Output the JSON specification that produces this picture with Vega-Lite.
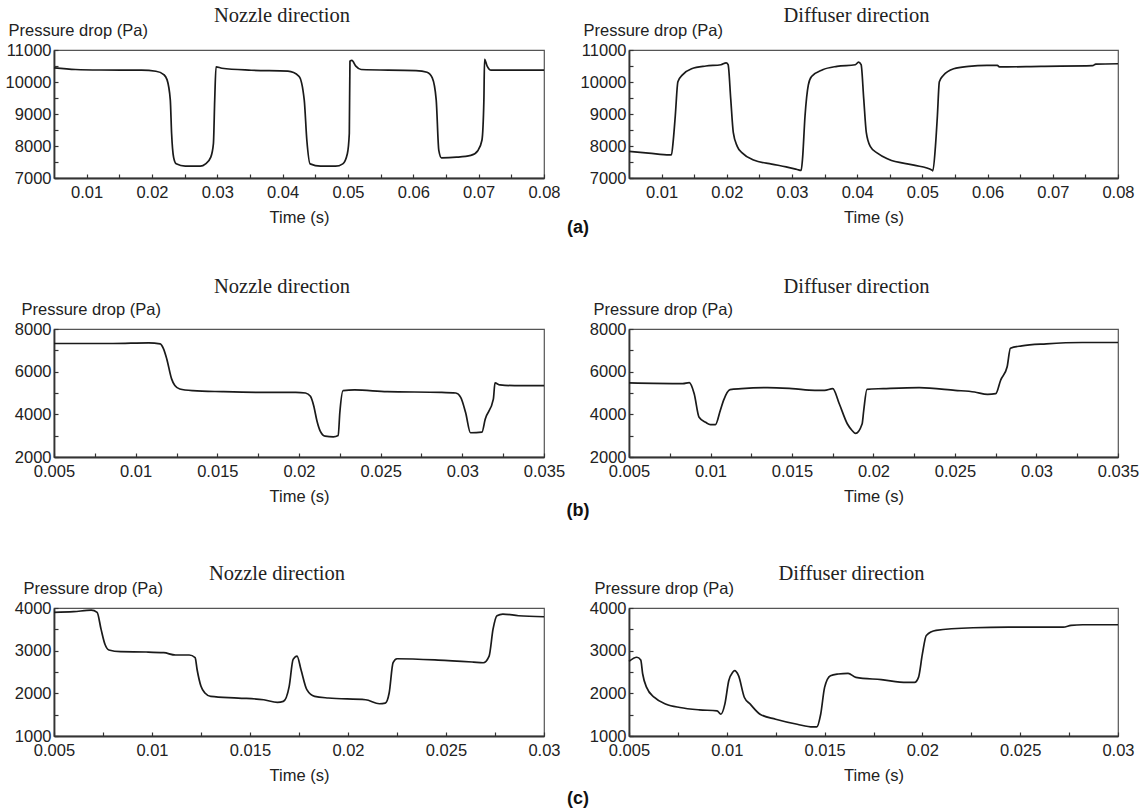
{
"$schema": "https://vega.github.io/schema/vega-lite/v6.json",
"background": "white",
"padding": {"left": 4, "top": 4, "right": 5, "bottom": 5},
"datasets": {
"a_noz": [
{"t":0.005,"p":10440},{"t":0.0083,"p":10390},{"t":0.012,"p":10375},{"t":0.0184,"p":10370},{"t":0.0206,"p":10337},{"t":0.0218,"p":10232},{"t":0.0223,"p":10074},{"t":0.0228,"p":9442},{"t":0.023,"p":8390},{"t":0.0233,"p":7653},{"t":0.0237,"p":7442},{"t":0.0251,"p":7368},{"t":0.0274,"p":7368},{"t":0.0282,"p":7442},{"t":0.029,"p":7653},{"t":0.0294,"p":8074},{"t":0.0296,"p":9442},{"t":0.0298,"p":10474},{"t":0.0307,"p":10430},{"t":0.0352,"p":10368},{"t":0.0408,"p":10337},{"t":0.0425,"p":10179},{"t":0.0433,"p":9442},{"t":0.0437,"p":8179},{"t":0.0442,"p":7442},{"t":0.0458,"p":7368},{"t":0.0481,"p":7368},{"t":0.0492,"p":7442},{"t":0.0499,"p":7758},{"t":0.0502,"p":8390},{"t":0.0503,"p":10653},{"t":0.0506,"p":10674},{"t":0.0512,"p":10495},{"t":0.052,"p":10390},{"t":0.0604,"p":10358},{"t":0.0621,"p":10305},{"t":0.0629,"p":10126},{"t":0.0635,"p":9442},{"t":0.0639,"p":7863},{"t":0.0643,"p":7632},{"t":0.0666,"p":7650},{"t":0.0688,"p":7705},{"t":0.0699,"p":7863},{"t":0.0705,"p":8179},{"t":0.0708,"p":9442},{"t":0.0709,"p":10705},{"t":0.0713,"p":10495},{"t":0.0719,"p":10368},{"t":0.08,"p":10368}
],
"a_dif": [
{"t":0.005,"p":7830},{"t":0.008,"p":7780},{"t":0.0112,"p":7720},{"t":0.0115,"p":7720},{"t":0.0118,"p":8200},{"t":0.0121,"p":8946},{"t":0.0125,"p":10010},{"t":0.0132,"p":10223},{"t":0.0146,"p":10415},{"t":0.0168,"p":10500},{"t":0.0191,"p":10540},{"t":0.0199,"p":10600},{"t":0.0202,"p":10540},{"t":0.0206,"p":9479},{"t":0.021,"p":8415},{"t":0.0216,"p":7989},{"t":0.0224,"p":7776},{"t":0.0241,"p":7563},{"t":0.0269,"p":7436},{"t":0.0291,"p":7350},{"t":0.0308,"p":7265},{"t":0.0314,"p":7235},{"t":0.0316,"p":7563},{"t":0.032,"p":8946},{"t":0.0325,"p":9904},{"t":0.033,"p":10170},{"t":0.0347,"p":10383},{"t":0.0369,"p":10490},{"t":0.0397,"p":10540},{"t":0.0402,"p":10620},{"t":0.0406,"p":10540},{"t":0.041,"p":9479},{"t":0.0414,"p":8415},{"t":0.042,"p":7989},{"t":0.0431,"p":7776},{"t":0.0448,"p":7585},{"t":0.0487,"p":7404},{"t":0.0515,"p":7244},{"t":0.0516,"p":7222},{"t":0.052,"p":7989},{"t":0.0523,"p":8946},{"t":0.0526,"p":10010},{"t":0.0532,"p":10202},{"t":0.0548,"p":10415},{"t":0.0571,"p":10490},{"t":0.0599,"p":10520},{"t":0.0615,"p":10520},{"t":0.0618,"p":10470},{"t":0.0682,"p":10490},{"t":0.0761,"p":10510},{"t":0.0766,"p":10560},{"t":0.08,"p":10570}
],
"b_noz": [
{"t":0.005,"p":7320},{"t":0.0086,"p":7320},{"t":0.0108,"p":7350},{"t":0.0115,"p":7305},{"t":0.0117,"p":7084},{"t":0.0119,"p":6610},{"t":0.0122,"p":5663},{"t":0.0124,"p":5347},{"t":0.0127,"p":5189},{"t":0.0135,"p":5110},{"t":0.0153,"p":5063},{"t":0.0175,"p":5032},{"t":0.0198,"p":5032},{"t":0.0204,"p":5000},{"t":0.0207,"p":4842},{"t":0.0209,"p":4400},{"t":0.0211,"p":3689},{"t":0.0213,"p":3216},{"t":0.0216,"p":2979},{"t":0.0221,"p":2947},{"t":0.0224,"p":3010},{"t":0.0225,"p":4084},{"t":0.0227,"p":5110},{"t":0.0234,"p":5142},{"t":0.0254,"p":5063},{"t":0.0287,"p":5032},{"t":0.0296,"p":5000},{"t":0.0299,"p":4795},{"t":0.0302,"p":4084},{"t":0.0305,"p":3137},{"t":0.0312,"p":3168},{"t":0.0314,"p":3768},{"t":0.0319,"p":4716},{"t":0.032,"p":5474},{"t":0.0323,"p":5379},{"t":0.0332,"p":5347},{"t":0.035,"p":5347}
],
"b_dif": [
{"t":0.005,"p":5474},{"t":0.0083,"p":5442},{"t":0.0087,"p":5490},{"t":0.009,"p":4968},{"t":0.0093,"p":3863},{"t":0.0097,"p":3626},{"t":0.01,"p":3516},{"t":0.0103,"p":3516},{"t":0.0106,"p":4179},{"t":0.0108,"p":4653},{"t":0.0112,"p":5158},{"t":0.0119,"p":5205},{"t":0.0135,"p":5253},{"t":0.015,"p":5205},{"t":0.0164,"p":5126},{"t":0.017,"p":5126},{"t":0.0175,"p":5205},{"t":0.0179,"p":4495},{"t":0.0184,"p":3547},{"t":0.0187,"p":3232},{"t":0.0189,"p":3105},{"t":0.0193,"p":3547},{"t":0.0194,"p":4179},{"t":0.0196,"p":5174},{"t":0.0206,"p":5205},{"t":0.0228,"p":5253},{"t":0.025,"p":5126},{"t":0.0262,"p":5047},{"t":0.027,"p":4937},{"t":0.0275,"p":4968},{"t":0.0278,"p":5600},{"t":0.0282,"p":6232},{"t":0.0284,"p":7100},{"t":0.0291,"p":7210},{"t":0.0306,"p":7305},{"t":0.0328,"p":7368},{"t":0.035,"p":7368}
],
"c_noz": [
{"t":0.005,"p":3898},{"t":0.006,"p":3913},{"t":0.0069,"p":3950},{"t":0.0072,"p":3898},{"t":0.0074,"p":3504},{"t":0.0076,"p":3150},{"t":0.0078,"p":3016},{"t":0.0084,"p":2976},{"t":0.0097,"p":2969},{"t":0.0106,"p":2953},{"t":0.0112,"p":2898},{"t":0.0119,"p":2898},{"t":0.0122,"p":2835},{"t":0.0123,"p":2559},{"t":0.0125,"p":2165},{"t":0.0127,"p":2008},{"t":0.013,"p":1929},{"t":0.0144,"p":1890},{"t":0.0157,"p":1850},{"t":0.0164,"p":1787},{"t":0.0167,"p":1811},{"t":0.017,"p":2165},{"t":0.0172,"p":2795},{"t":0.0174,"p":2874},{"t":0.0176,"p":2559},{"t":0.0179,"p":2087},{"t":0.0183,"p":1929},{"t":0.019,"p":1890},{"t":0.0209,"p":1850},{"t":0.0216,"p":1756},{"t":0.0219,"p":1772},{"t":0.0221,"p":2008},{"t":0.0223,"p":2717},{"t":0.0225,"p":2811},{"t":0.0246,"p":2780},{"t":0.0264,"p":2732},{"t":0.0269,"p":2717},{"t":0.0272,"p":2874},{"t":0.0274,"p":3504},{"t":0.0276,"p":3819},{"t":0.0279,"p":3858},{"t":0.0287,"p":3819},{"t":0.03,"p":3795}
],
"c_dif": [
{"t":0.005,"p":2750},{"t":0.0054,"p":2846},{"t":0.0056,"p":2780},{"t":0.0057,"p":2453},{"t":0.0059,"p":2139},{"t":0.0063,"p":1903},{"t":0.0069,"p":1746},{"t":0.0076,"p":1668},{"t":0.0086,"p":1613},{"t":0.0095,"p":1589},{"t":0.0097,"p":1510},{"t":0.0099,"p":1746},{"t":0.0101,"p":2296},{"t":0.0103,"p":2492},{"t":0.0104,"p":2532},{"t":0.0106,"p":2414},{"t":0.0109,"p":1903},{"t":0.0112,"p":1746},{"t":0.0117,"p":1510},{"t":0.0125,"p":1393},{"t":0.0136,"p":1275},{"t":0.0144,"p":1212},{"t":0.0146,"p":1212},{"t":0.0148,"p":1510},{"t":0.015,"p":2139},{"t":0.0153,"p":2414},{"t":0.0157,"p":2453},{"t":0.0162,"p":2469},{"t":0.0166,"p":2375},{"t":0.0179,"p":2320},{"t":0.0192,"p":2257},{"t":0.0196,"p":2257},{"t":0.0198,"p":2375},{"t":0.02,"p":2924},{"t":0.0202,"p":3356},{"t":0.0207,"p":3474},{"t":0.0226,"p":3537},{"t":0.0244,"p":3552},{"t":0.0272,"p":3552},{"t":0.0276,"p":3592},{"t":0.0282,"p":3607},{"t":0.03,"p":3607}
]
},
"spacing": 279,
"bounds": "flush",
"vconcat": [
{
"spacing": 85, "bounds": "flush",
"title": {"text": "(a)", "orient": "bottom", "anchor": "middle", "frame": "group", "dx": 524, "offset": -8, "font": "Liberation Sans", "fontSize": 18, "fontWeight": "bold", "color": "#111"},
"hconcat": [
{"width": 490, "height": 128, "title": {"text": "Nozzle direction"}, "data": {"name": "a_noz"},
 "mark": {"type": "line", "color": "#1a1a1a", "strokeWidth": 1.7, "interpolate": "monotone"},
 "encoding": {
  "x": {"field": "t", "type": "quantitative", "scale": {"domain": [0.005, 0.08], "nice": false, "zero": false},
        "axis": {"title": "Time (s)", "values": [0.01,0.015,0.02,0.025,0.03,0.035,0.04,0.045,0.05,0.055,0.06,0.065,0.07,0.075,0.08], "labelExpr": "abs(datum.value*100 - round(datum.value*100)) < 0.001 ? format(datum.value, '~g') : ''"}},
  "y": {"field": "p", "type": "quantitative", "scale": {"domain": [7000, 11000], "nice": false, "zero": false},
        "axis": {"title": "Pressure drop (Pa)", "titleX": -46, "values": [7000,7500,8000,8500,9000,9500,10000,10500,11000], "labelExpr": "datum.value % 1000 == 0 ? format(datum.value, 'd') : ''"}}
 }},
{"width": 489, "height": 128, "title": {"text": "Diffuser direction"}, "data": {"name": "a_dif"},
 "mark": {"type": "line", "color": "#1a1a1a", "strokeWidth": 1.7, "interpolate": "monotone"},
 "encoding": {
  "x": {"field": "t", "type": "quantitative", "scale": {"domain": [0.005, 0.08], "nice": false, "zero": false},
        "axis": {"title": "Time (s)", "values": [0.01,0.015,0.02,0.025,0.03,0.035,0.04,0.045,0.05,0.055,0.06,0.065,0.07,0.075,0.08], "labelExpr": "abs(datum.value*100 - round(datum.value*100)) < 0.001 ? format(datum.value, '~g') : ''"}},
  "y": {"field": "p", "type": "quantitative", "scale": {"domain": [7000, 11000], "nice": false, "zero": false},
        "axis": {"title": "Pressure drop (Pa)", "titleX": -46, "values": [7000,7500,8000,8500,9000,9500,10000,10500,11000], "labelExpr": "datum.value % 1000 == 0 ? format(datum.value, 'd') : ''"}}
 }}
]
},
{
"spacing": 85, "bounds": "flush",
"title": {"text": "(b)", "orient": "bottom", "anchor": "middle", "frame": "group", "dx": 524, "offset": -4, "font": "Liberation Sans", "fontSize": 18, "fontWeight": "bold", "color": "#111"},
"hconcat": [
{"width": 490, "height": 128, "title": {"text": "Nozzle direction", "offset": 4}, "data": {"name": "b_noz"},
 "mark": {"type": "line", "color": "#1a1a1a", "strokeWidth": 1.7, "interpolate": "monotone"},
 "encoding": {
  "x": {"field": "t", "type": "quantitative", "scale": {"domain": [0.005, 0.035], "nice": false, "zero": false},
        "axis": {"title": "Time (s)", "values": [0.005,0.0075,0.01,0.0125,0.015,0.0175,0.02,0.0225,0.025,0.0275,0.03,0.0325,0.035], "labelExpr": "abs(datum.value*200 - round(datum.value*200)) < 0.001 ? format(datum.value, '~g') : ''"}},
  "y": {"field": "p", "type": "quantitative", "scale": {"domain": [2000, 8000], "nice": false, "zero": false},
        "axis": {"title": "Pressure drop (Pa)", "titleX": -33, "values": [2000,3000,4000,5000,6000,7000,8000], "labelExpr": "datum.value % 2000 == 0 ? format(datum.value, 'd') : ''"}}
 }},
{"width": 489, "height": 128, "title": {"text": "Diffuser direction", "offset": 4}, "data": {"name": "b_dif"},
 "mark": {"type": "line", "color": "#1a1a1a", "strokeWidth": 1.7, "interpolate": "monotone"},
 "encoding": {
  "x": {"field": "t", "type": "quantitative", "scale": {"domain": [0.005, 0.035], "nice": false, "zero": false},
        "axis": {"title": "Time (s)", "values": [0.005,0.0075,0.01,0.0125,0.015,0.0175,0.02,0.0225,0.025,0.0275,0.03,0.0325,0.035], "labelExpr": "abs(datum.value*200 - round(datum.value*200)) < 0.001 ? format(datum.value, '~g') : ''"}},
  "y": {"field": "p", "type": "quantitative", "scale": {"domain": [2000, 8000], "nice": false, "zero": false},
        "axis": {"title": "Pressure drop (Pa)", "titleX": -36, "values": [2000,3000,4000,5000,6000,7000,8000], "labelExpr": "datum.value % 2000 == 0 ? format(datum.value, 'd') : ''"}}
 }}
]
},
{
"spacing": 85, "bounds": "flush",
"title": {"text": "(c)", "orient": "bottom", "anchor": "middle", "frame": "group", "dx": 524, "offset": 5, "font": "Liberation Sans", "fontSize": 18, "fontWeight": "bold", "color": "#111"},
"hconcat": [
{"width": 490, "height": 128, "title": {"text": "Nozzle direction", "dx": -22}, "data": {"name": "c_noz"},
 "mark": {"type": "line", "color": "#1a1a1a", "strokeWidth": 1.7, "interpolate": "monotone"},
 "encoding": {
  "x": {"field": "t", "type": "quantitative", "scale": {"domain": [0.005, 0.03], "nice": false, "zero": false},
        "axis": {"title": "Time (s)", "values": [0.005,0.0075,0.01,0.0125,0.015,0.0175,0.02,0.0225,0.025,0.0275,0.03], "labelExpr": "abs(datum.value*200 - round(datum.value*200)) < 0.001 ? format(datum.value, '~g') : ''"}},
  "y": {"field": "p", "type": "quantitative", "scale": {"domain": [1000, 4000], "nice": false, "zero": false},
        "axis": {"title": "Pressure drop (Pa)", "titleX": -31, "values": [1000,1500,2000,2500,3000,3500,4000], "labelExpr": "datum.value % 1000 == 0 ? format(datum.value, 'd') : ''"}}
 }},
{"width": 489, "height": 128, "title": {"text": "Diffuser direction", "dx": -22}, "data": {"name": "c_dif"},
 "mark": {"type": "line", "color": "#1a1a1a", "strokeWidth": 1.7, "interpolate": "monotone"},
 "encoding": {
  "x": {"field": "t", "type": "quantitative", "scale": {"domain": [0.005, 0.03], "nice": false, "zero": false},
        "axis": {"title": "Time (s)", "values": [0.005,0.0075,0.01,0.0125,0.015,0.0175,0.02,0.0225,0.025,0.0275,0.03], "labelExpr": "abs(datum.value*200 - round(datum.value*200)) < 0.001 ? format(datum.value, '~g') : ''"}},
  "y": {"field": "p", "type": "quantitative", "scale": {"domain": [1000, 4000], "nice": false, "zero": false},
        "axis": {"title": "Pressure drop (Pa)", "titleX": -35, "values": [1000,1500,2000,2500,3000,3500,4000], "labelExpr": "datum.value % 1000 == 0 ? format(datum.value, 'd') : ''"}}
 }}
]
}
],
"config": {
 "view": {"stroke": "#555", "strokeWidth": 1.2},
 "axis": {"grid": false, "domainColor": "#333", "domainWidth": 1.8, "tickColor": "#333", "tickSize": -4, "tickWidth": 1.2,
          "labelFont": "Liberation Sans", "labelFontSize": 16.5, "labelColor": "#222", "labelFlush": false, "labelOverlap": false,
          "titleFont": "Liberation Sans", "titleFontSize": 16.5, "titleFontWeight": "normal", "titleColor": "#222"},
 "axisX": {"labelPadding": 10, "titlePadding": 9},
 "axisY": {"labelPadding": 7, "titleAngle": 0, "titleAlign": "left", "titleBaseline": "alphabetic", "titleY": -15},
 "title": {"font": "Liberation Serif", "fontSize": 20.5, "fontWeight": "normal", "color": "#222", "offset": -4, "dx": -17}
}
}
